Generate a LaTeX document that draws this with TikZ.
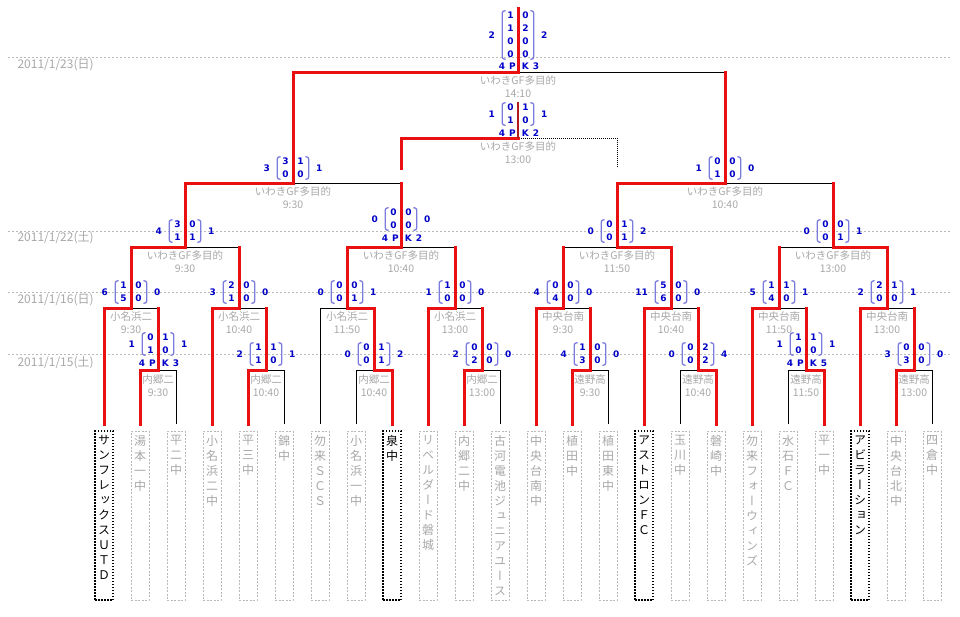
\documentclass[tikz,border=0pt]{standalone}
\usepackage{fontspec}
\setmainfont{Noto Sans CJK JP}
\newfontfamily\tatefont{Noto Sans CJK JP}[RawFeature=+vert]
\newfontfamily\tenfont{DejaVu Sans}
\usetikzlibrary{positioning}

\definecolor{kachi}{HTML}{E81010}
\definecolor{kuroaka}{HTML}{B01C1C}
\definecolor{aoji}{HTML}{0000C8}
\definecolor{kakkoiro}{HTML}{7C7CDC}
\definecolor{usui}{HTML}{A8A8A8}
\definecolor{wakusen}{HTML}{B8B8B8}

% tategaki: one character per line
\def\tateloop#1{\ifx\relax#1\else#1\par\expandafter\tateloop\fi}
\newcommand{\tate}[1]{\parbox[t][160pt][t]{14pt}{\centering\tateloop#1\relax}}

% score block: name, centre, left total, rows, right total
\newcommand{\kekka}[5]{%
  \node[mat] (#1) at #2 {\begin{tabular}{@{}c@{\hspace{8.7pt}}c@{}}#4\end{tabular}};
  \draw[kakko] ([xshift=3.5pt]#1.north west) -- (#1.north west) -- (#1.south west) -- ([xshift=3.5pt]#1.south west);
  \draw[kakko] ([xshift=-3.5pt]#1.north east) -- (#1.north east) -- (#1.south east) -- ([xshift=-3.5pt]#1.south east);
  \node[ten,left=7pt of #1] (#1-l) {#3};
  \node[ten,right=7pt of #1] (#1-r) {#5};}

\tikzset{
  team/.style={draw=wakusen, dash pattern=on 2pt off 1.5pt, text=usui, anchor=north,
    inner xsep=2pt, inner ysep=4.5pt, outer xsep=0pt, outer ysep=7pt,
    font=\tatefont\fontsize{12}{15}\selectfont},
  team4/.style={team, draw=black, text=black, dash pattern=on 1.5pt off 1.5pt, line width=1.1pt},
  mat/.style={inner xsep=5pt, inner ysep=-2pt, text=aoji, font=\tenfont\bfseries\fontsize{9}{13}\selectfont},
  ten/.style={inner sep=0pt, text=aoji, font=\tenfont\bfseries\fontsize{9}{13}\selectfont},
  kakko/.style={draw=kakkoiro, line width=1.3pt, rounded corners=2.5pt},
  basho/.style={anchor=north, inner sep=1pt, align=center, text=usui, font=\fontsize{10.5}{13.5}\selectfont},
  kachisen/.style={draw=kachi, line width=3pt, line cap=rect},
  makesen/.style={draw=black, line width=1pt},
  hizuke/.style={draw=usui!80, dash pattern=on 2pt off 2pt, line width=0.8pt},
  hizukeji/.style={anchor=west, text=usui, font=\fontsize{12}{14}\selectfont}
}

\begin{document}
\begin{tikzpicture}[x=1pt,y=-1pt]
  \useasboundingbox (0,0) rectangle (960,616);

  % dates
  \draw[hizuke] (8,57) -- (952,57);
  \draw[hizuke] (8,231) -- (952,231);
  \draw[hizuke] (8,292) -- (952,292);
  \draw[hizuke] (8,354) -- (952,354);
  \node[hizukeji] (d23) at (14,65) {2011/1/23(日)};
  \node[hizukeji] (d22) at (14,238) {2011/1/22(土)};
  \node[hizukeji] (d16) at (14,300) {2011/1/16(日)};
  \node[hizukeji] (d15) at (14,363) {2011/1/15(土)};

  % teams
  \node[team4] (t1) at (104,424) {\tate{サンフレックスＵＴＤ}};
  \node[team] (t2) at (140,424) {\tate{湯本一中}};
  \node[team] (t3) at (176,424) {\tate{平二中}};
  \node[team] (t4) at (212,424) {\tate{小名浜二中}};
  \node[team] (t5) at (248,424) {\tate{平三中}};
  \node[team] (t6) at (284,424) {\tate{錦中}};
  \node[team] (t7) at (320,424) {\tate{勿来ＳＣＳ}};
  \node[team] (t8) at (356,424) {\tate{小名浜一中}};
  \node[team4] (t9) at (392,424) {\tate{泉中}};
  \node[team] (t10) at (428,424) {\tate{リベルダード磐城}};
  \node[team] (t11) at (464,424) {\tate{内郷二中}};
  \node[team] (t12) at (500,424) {\tate{古河電池ジュニアユース}};
  \node[team] (t13) at (536,424) {\tate{中央台南中}};
  \node[team] (t14) at (572,424) {\tate{植田中}};
  \node[team] (t15) at (608,424) {\tate{植田東中}};
  \node[team4] (t16) at (644,424) {\tate{アストロンＦＣ}};
  \node[team] (t17) at (680,424) {\tate{玉川中}};
  \node[team] (t18) at (716,424) {\tate{磐崎中}};
  \node[team] (t19) at (752,424) {\tate{勿来フォーウィンズ}};
  \node[team] (t20) at (788,424) {\tate{水石ＦＣ}};
  \node[team] (t21) at (824,424) {\tate{平一中}};
  \node[team4] (t22) at (860,424) {\tate{アビラーション}};
  \node[team] (t23) at (896,424) {\tate{中央台北中}};
  \node[team] (t24) at (932,424) {\tate{四倉中}};

  % matches
  \coordinate (r1a) at (158,370);
  \coordinate (r1b) at (266,370);
  \coordinate (r1c) at (374,370);
  \coordinate (r1d) at (482,370);
  \coordinate (r1e) at (590,370);
  \coordinate (r1f) at (698,370);
  \coordinate (r1g) at (806,370);
  \coordinate (r1h) at (914,370);
  \coordinate (r2a) at (131,308);
  \coordinate (r2b) at (239,308);
  \coordinate (r2c) at (347,308);
  \coordinate (r2d) at (455,308);
  \coordinate (r2e) at (563,308);
  \coordinate (r2f) at (671,308);
  \coordinate (r2g) at (779,308);
  \coordinate (r2h) at (887,308);
  \coordinate (qf1) at (185,247);
  \coordinate (qf2) at (401,247);
  \coordinate (qf3) at (617,247);
  \coordinate (qf4) at (833,247);
  \coordinate (sf1) at (293,183);
  \coordinate (sf2) at (725,183);
  \coordinate (fin) at (518,72);
  \coordinate (fintop) at (518,8);
  \coordinate (third) at (518,138);
  \coordinate (thtop) at (518,102);
  \coordinate (thl) at (401,168);
  \coordinate (thr) at (617,167);

  \begin{scope}[makesen]
    \draw (t3.north) |- (r1a);
    \draw (t6.north) |- (r1b);
    \draw (t8.north) |- (r1c);
    \draw (t12.north) |- (r1d);
    \draw (t15.north) |- (r1e);
    \draw (t17.north) |- (r1f);
    \draw (t20.north) |- (r1g);
    \draw (t24.north) |- (r1h);
    \draw (r1a) |- (r2a);
    \draw (r1b) |- (r2b);
    \draw (t7.north) |- (r2c);
    \draw (r1d) |- (r2d);
    \draw (r1e) |- (r2e);
    \draw (r1f) |- (r2f);
    \draw (r1g) |- (r2g);
    \draw (r1h) |- (r2h);
    \draw (r2b) |- (qf1);
    \draw (r2d) |- (qf2);
    \draw (r2e) |- (qf3);
    \draw (r2g) |- (qf4);
    \draw (qf2) |- (sf1);
    \draw (qf4) |- (sf2);
    \draw (sf2) |- (fin);
    \draw[densely dotted] (thr) |- (third);
  \end{scope}

  \begin{scope}[kachisen]
    \draw (t2.north) |- (r1a);
    \draw (t5.north) |- (r1b);
    \draw (t9.north) |- (r1c);
    \draw (t11.north) |- (r1d);
    \draw (t14.north) |- (r1e);
    \draw (t18.north) |- (r1f);
    \draw (t21.north) |- (r1g);
    \draw (t23.north) |- (r1h);
    \draw (t1.north) |- (r2a);
    \draw (t4.north) |- (r2b);
    \draw (r1c) |- (r2c);
    \draw (t10.north) |- (r2d);
    \draw (t13.north) |- (r2e);
    \draw (t16.north) |- (r2f);
    \draw (t19.north) |- (r2g);
    \draw (t22.north) |- (r2h);
    \draw (r2a) |- (qf1);
    \draw (r2c) |- (qf2);
    \draw (r2f) |- (qf3);
    \draw (r2h) |- (qf4);
    \draw (qf1) |- (sf1);
    \draw (qf3) |- (sf2);
    \draw (sf1) |- (fin);
    \draw (fin) -- (fintop);
    \draw (thl) |- (third);
    % losers still came up this far
    \draw (r1a) -- (r1a |- r2a);
    \draw (r1b) -- (r1b |- r2b);
    \draw (r1d) -- (r1d |- r2d);
    \draw (r1e) -- (r1e |- r2e);
    \draw (r1f) -- (r1f |- r2f);
    \draw (r1g) -- (r1g |- r2g);
    \draw (r1h) -- (r1h |- r2h);
    \draw (r2b) -- (r2b |- qf1);
    \draw (r2d) -- (r2d |- qf2);
    \draw (r2e) -- (r2e |- qf3);
    \draw (r2g) -- (r2g |- qf4);
    \draw (qf2) -- (qf2 |- sf1);
    \draw (qf4) -- (qf4 |- sf2);
    \draw (sf2) -- (sf2 |- fin);
  \end{scope}
  \draw[kuroaka, line width=2pt] (thtop) -- (third);

  % scores
  \kekka{fin-k}{(518,35)}{2}{1&0\\1&2\\0&0\\0&0}{2}
  \node[ten] (fin-pk) at (519,66.5) {4\hspace{4pt}P\hspace{6pt}K\hspace{4pt}3};
  \kekka{th-k}{(518,114)}{1}{0&1\\1&0}{1}
  \node[ten] (th-pk) at (519,133) {4\hspace{4pt}P\hspace{6pt}K\hspace{4pt}2};
  \kekka{sf1-k}{(293,168)}{3}{3&1\\0&0}{1}
  \kekka{sf2-k}{(725,168)}{1}{0&0\\1&0}{0}
  \kekka{qf1-k}{(185,231)}{4}{3&0\\1&1}{1}
  \kekka{qf2-k}{(401,219)}{0}{0&0\\0&0}{0}
  \node[ten] (qf2-pk) at (402,238) {4\hspace{4pt}P\hspace{6pt}K\hspace{4pt}2};
  \kekka{qf3-k}{(617,231)}{0}{0&1\\0&1}{2}
  \kekka{qf4-k}{(833,231)}{0}{0&0\\0&1}{1}
  \kekka{r2a-k}{(131,292)}{6}{1&0\\5&0}{0}
  \kekka{r2b-k}{(239,292)}{3}{2&0\\1&0}{0}
  \kekka{r2c-k}{(347,292)}{0}{0&0\\0&1}{1}
  \kekka{r2d-k}{(455,292)}{1}{1&0\\0&0}{0}
  \kekka{r2e-k}{(563,292)}{4}{0&0\\4&0}{0}
  \kekka{r2f-k}{(671,292)}{11}{5&0\\6&0}{0}
  \kekka{r2g-k}{(779,292)}{5}{1&1\\4&0}{1}
  \kekka{r2h-k}{(887,292)}{2}{2&1\\0&0}{1}
  \kekka{r1a-k}{(158,344)}{1}{0&1\\1&0}{1}
  \node[ten] (r1a-pk) at (159,363) {4\hspace{4pt}P\hspace{6pt}K\hspace{4pt}3};
  \kekka{r1b-k}{(266,354)}{2}{1&1\\1&0}{1}
  \kekka{r1c-k}{(374,354)}{0}{0&1\\0&1}{2}
  \kekka{r1d-k}{(482,354)}{2}{0&0\\2&0}{0}
  \kekka{r1e-k}{(590,354)}{4}{1&0\\3&0}{0}
  \kekka{r1f-k}{(698,354)}{0}{0&2\\0&2}{4}
  \kekka{r1g-k}{(806,344)}{1}{1&1\\0&0}{1}
  \node[ten] (r1g-pk) at (807,363) {4\hspace{4pt}P\hspace{6pt}K\hspace{4pt}5};
  \kekka{r1h-k}{(914,354)}{3}{0&0\\3&0}{0}

  % venues
  \node[basho] (fin-v) at (518,74) {いわきGF多目的\\14:10};
  \node[basho] (th-v) at (518,140) {いわきGF多目的\\13:00};
  \node[basho] (sf1-v) at (293,185) {いわきGF多目的\\9:30};
  \node[basho] (sf2-v) at (725,185) {いわきGF多目的\\10:40};
  \node[basho] (qf1-v) at (185,249) {いわきGF多目的\\9:30};
  \node[basho] (qf2-v) at (401,249) {いわきGF多目的\\10:40};
  \node[basho] (qf3-v) at (617,249) {いわきGF多目的\\11:50};
  \node[basho] (qf4-v) at (833,249) {いわきGF多目的\\13:00};
  \node[basho] (r2a-v) at (131,310) {小名浜二\\9:30};
  \node[basho] (r2b-v) at (239,310) {小名浜二\\10:40};
  \node[basho] (r2c-v) at (347,310) {小名浜二\\11:50};
  \node[basho] (r2d-v) at (455,310) {小名浜二\\13:00};
  \node[basho] (r2e-v) at (563,310) {中央台南\\9:30};
  \node[basho] (r2f-v) at (671,310) {中央台南\\10:40};
  \node[basho] (r2g-v) at (779,310) {中央台南\\11:50};
  \node[basho] (r2h-v) at (887,310) {中央台南\\13:00};
  \node[basho] (r1a-v) at (158,373) {内郷二\\9:30};
  \node[basho] (r1b-v) at (266,373) {内郷二\\10:40};
  \node[basho] (r1c-v) at (374,373) {内郷二\\10:40};
  \node[basho] (r1d-v) at (482,373) {内郷二\\13:00};
  \node[basho] (r1e-v) at (590,373) {遠野高\\9:30};
  \node[basho] (r1f-v) at (698,373) {遠野高\\10:40};
  \node[basho] (r1g-v) at (806,373) {遠野高\\11:50};
  \node[basho] (r1h-v) at (914,373) {遠野高\\13:00};
\end{tikzpicture}
\end{document}
